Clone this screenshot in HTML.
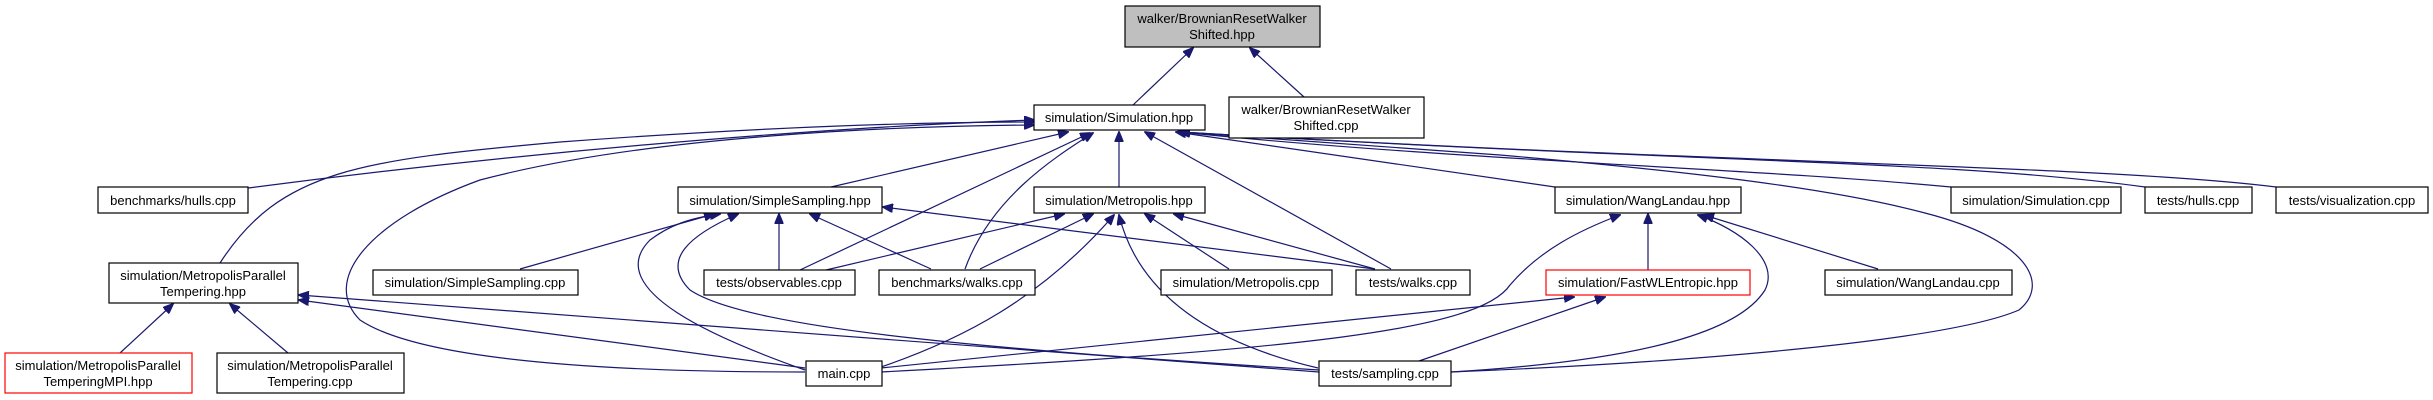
<!DOCTYPE html>
<html><head><meta charset="utf-8"><style>
html,body{margin:0;padding:0;background:#fff;}
svg{display:block;}
text{font-family:"Liberation Sans",sans-serif;font-size:13px;fill:#000;text-anchor:middle;}
.e{fill:none;stroke:#191970;stroke-width:1.2;}
.n{fill:#fff;stroke:#000;stroke-width:1.2;}
.r{fill:#fff;stroke:#ff0000;stroke-width:1.2;}
</style></head><body>
<svg width="2433" height="400" viewBox="0 0 2433 400" xmlns="http://www.w3.org/2000/svg">
<defs>
<marker id="a" markerWidth="11" markerHeight="9" refX="10" refY="4.5" orient="auto" markerUnits="userSpaceOnUse">
<path d="M0,0 L11,4.5 L0,9 z" fill="#191970" stroke="#191970"/>
</marker>
</defs>
<g marker-end="url(#a)">
<!-- to root -->
<path class="e" d="M1133,105 L1193,48"/>
<path class="e" d="M1304,97 L1250,48"/>
<!-- to Simulation.hpp -->
<path class="e" d="M248,188 C500,155 800,128 1034,120"/>
<path class="e" d="M220,263 C280,170 360,160 560,142 C750,128 900,122 1034,122"/>
<path class="e" d="M805,372 C600,372 420,360 360,320 C320,280 370,220 480,180 C650,135 900,126 1034,125"/>
<path class="e" d="M831,187 L1068,132"/>
<path class="e" d="M800,270 L1090,133"/>
<path class="e" d="M965,269 C990,200 1050,160 1093,133"/>
<path class="e" d="M1119,187 L1119,132"/>
<path class="e" d="M1391,269 L1145,132"/>
<path class="e" d="M1555,187 L1176,132"/>
<path class="e" d="M1451,372 C1700,362 1950,340 2019,310 C2050,285 2030,240 1925,213 C1820,185 1650,168 1500,155 C1350,144 1250,138 1180,132"/>
<path class="e" d="M1951,187 C1750,168 1450,160 1180,132"/>
<path class="e" d="M2145,187 C1950,160 1700,163 1180,132"/>
<path class="e" d="M2276,187 C2100,165 1700,163 1180,132"/>
<!-- to Metropolis.hpp -->
<path class="e" d="M826,270 L1064,214"/>
<path class="e" d="M980,269 L1093,214"/>
<path class="e" d="M881,367 C960,340 1040,300 1114,215"/>
<path class="e" d="M1318,368 C1220,345 1140,300 1119,215"/>
<path class="e" d="M1229,269 L1145,214"/>
<path class="e" d="M1375,269 L1174,214"/>
<!-- to SimpleSampling.hpp -->
<path class="e" d="M520,269 L714,214"/>
<path class="e" d="M805,370 C720,340 600,290 650,240 C670,225 690,218 720,214"/>
<path class="e" d="M1319,370 C1000,350 750,330 690,290 C660,260 690,235 738,214"/>
<path class="e" d="M779,270 L779,214"/>
<path class="e" d="M931,269 L810,214"/>
<path class="e" d="M1375,269 L883,207"/>
<!-- to MPT.hpp -->
<path class="e" d="M120,353 L173,304"/>
<path class="e" d="M288,353 L230,304"/>
<path class="e" d="M805,368 L299,300"/>
<path class="e" d="M1319,372 L299,295"/>
<!-- to WangLandau.hpp -->
<path class="e" d="M1648,270 L1648,214"/>
<path class="e" d="M881,372 C1300,350 1480,330 1510,285 C1540,250 1580,230 1620,215"/>
<path class="e" d="M1451,372 C1650,360 1740,330 1765,290 C1780,260 1740,230 1698,215"/>
<path class="e" d="M1878,269 L1704,215"/>
<!-- to FastWL -->
<path class="e" d="M881,368 L1574,297"/>
<path class="e" d="M1419,361 L1605,297"/>
</g>
<!-- nodes -->
<rect x="1125" y="6" width="195" height="41" fill="#bfbfbf" stroke="#000" stroke-width="1.2"/>
<text x="1222" y="23">walker/BrownianResetWalker</text><text x="1222" y="39">Shifted.hpp</text>

<rect class="n" x="1034" y="105" width="171" height="25"/><text x="1119" y="122">simulation/Simulation.hpp</text>
<rect class="n" x="1229" y="97" width="195" height="41"/><text x="1326" y="114">walker/BrownianResetWalker</text><text x="1326" y="130">Shifted.cpp</text>

<rect class="n" x="98" y="187" width="150" height="26"/><text x="173" y="205">benchmarks/hulls.cpp</text>
<rect class="n" x="678" y="187" width="204" height="26"/><text x="780" y="205">simulation/SimpleSampling.hpp</text>
<rect class="n" x="1034" y="187" width="171" height="26"/><text x="1119" y="205">simulation/Metropolis.hpp</text>
<rect class="n" x="1555" y="187" width="186" height="26"/><text x="1648" y="205">simulation/WangLandau.hpp</text>
<rect class="n" x="1951" y="187" width="170" height="26"/><text x="2036" y="205">simulation/Simulation.cpp</text>
<rect class="n" x="2145" y="187" width="107" height="26"/><text x="2198" y="205">tests/hulls.cpp</text>
<rect class="n" x="2276" y="187" width="152" height="26"/><text x="2352" y="205">tests/visualization.cpp</text>

<rect class="n" x="109" y="263" width="189" height="40"/><text x="203" y="280">simulation/MetropolisParallel</text><text x="203" y="296">Tempering.hpp</text>
<rect class="n" x="373" y="270" width="205" height="25"/><text x="475" y="287">simulation/SimpleSampling.cpp</text>
<rect class="n" x="704" y="270" width="151" height="25"/><text x="779" y="287">tests/observables.cpp</text>
<rect class="n" x="879" y="270" width="156" height="25"/><text x="957" y="287">benchmarks/walks.cpp</text>
<rect class="n" x="1161" y="270" width="171" height="25"/><text x="1246" y="287">simulation/Metropolis.cpp</text>
<rect class="n" x="1356" y="270" width="114" height="25"/><text x="1413" y="287">tests/walks.cpp</text>
<rect class="r" x="1546" y="270" width="204" height="25"/><text x="1648" y="287">simulation/FastWLEntropic.hpp</text>
<rect class="n" x="1825" y="270" width="187" height="25"/><text x="1918" y="287">simulation/WangLandau.cpp</text>

<rect class="r" x="5" y="353" width="187" height="40"/><text x="98" y="370">simulation/MetropolisParallel</text><text x="98" y="386">TemperingMPI.hpp</text>
<rect class="n" x="217" y="353" width="187" height="40"/><text x="310" y="370">simulation/MetropolisParallel</text><text x="310" y="386">Tempering.cpp</text>
<rect class="n" x="806" y="361" width="76" height="25"/><text x="844" y="378">main.cpp</text>
<rect class="n" x="1319" y="361" width="132" height="25"/><text x="1385" y="378">tests/sampling.cpp</text>
</svg>
</body></html>
